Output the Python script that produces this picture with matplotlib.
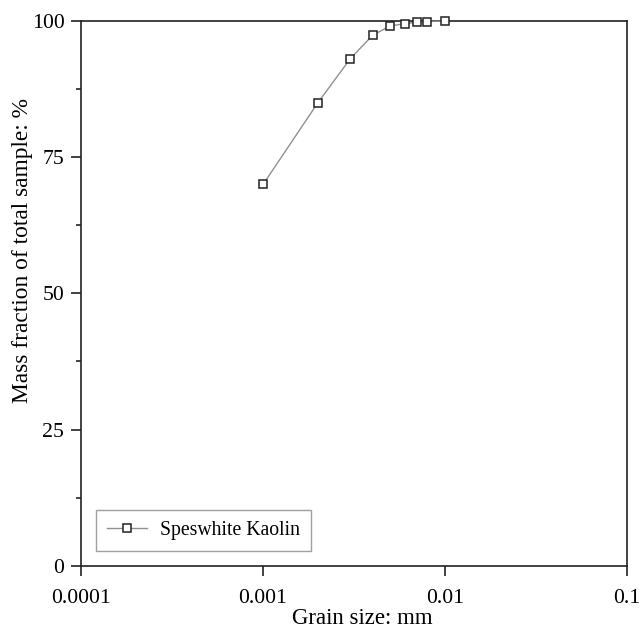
import matplotlib
matplotlib.use("Agg")
import matplotlib.pyplot as plt
from matplotlib.ticker import FixedLocator, NullLocator

plt.rcParams['font.family'] = ['Liberation Serif', 'DejaVu Serif']

grain_size = [0.001, 0.002, 0.003, 0.004, 0.005, 0.006, 0.007, 0.008, 0.01]
mass_fraction = [70, 85, 93, 97.4, 99.1, 99.5, 99.8, 99.9, 100]
x_ticks = [0.0001, 0.001, 0.01, 0.1]
x_tick_labels = ['0.0001', '0.001', '0.01', '0.1']
y_ticks = [0, 25, 50, 75, 100]
y_minor = [12.5, 37.5, 62.5, 87.5]

fig = plt.figure(figsize=(6.4, 6.33), dpi=100)
ax = fig.add_axes([0.1266, 0.1063, 0.8534, 0.8605])

ax.plot(grain_size, mass_fraction, color='#909090', lw=1.0,
        marker='s', markersize=5.5, markerfacecolor='white',
        markeredgecolor='#222222', markeredgewidth=1.1,
        label='Speswhite Kaolin', clip_on=False, zorder=3)

ax.set_xscale('log')
ax.set_xlim(0.0001, 0.1)
ax.set_ylim(0, 100)
ax.xaxis.set_major_locator(FixedLocator(x_ticks))
ax.set_xticklabels(x_tick_labels)
ax.xaxis.set_minor_locator(NullLocator())
ax.set_yticks(y_ticks)
ax.yaxis.set_minor_locator(FixedLocator(y_minor))

for s in ax.spines.values():
    s.set_linewidth(1.2)
    s.set_color('#222222')

ax.tick_params(axis='both', which='major', direction='out', length=7, width=1.2,
               labelsize=15.7, color='#222222', top=False, right=False)
ax.tick_params(axis='y', which='minor', direction='out', length=3.5, width=1.2,
               color='#222222')
ax.tick_params(axis='x', which='major', pad=10)
ax.tick_params(axis='y', which='major', pad=5)

ax.set_xlabel('Grain size: mm', fontsize=16.5)
ax.set_ylabel('Mass fraction of total sample: %', fontsize=16.8)
ax.xaxis.set_label_coords(0.515, -0.077)
ax.yaxis.set_label_coords(-0.088, 0.578)

leg = ax.legend(loc='lower left', fontsize=14.2, frameon=True, fancybox=False,
                edgecolor='#888888', borderpad=0.55, handlelength=2.0,
                handletextpad=0.7, bbox_to_anchor=(0.01, 0.009))
leg.get_frame().set_linewidth(1.0)

fig.savefig('out.png', dpi=100)
